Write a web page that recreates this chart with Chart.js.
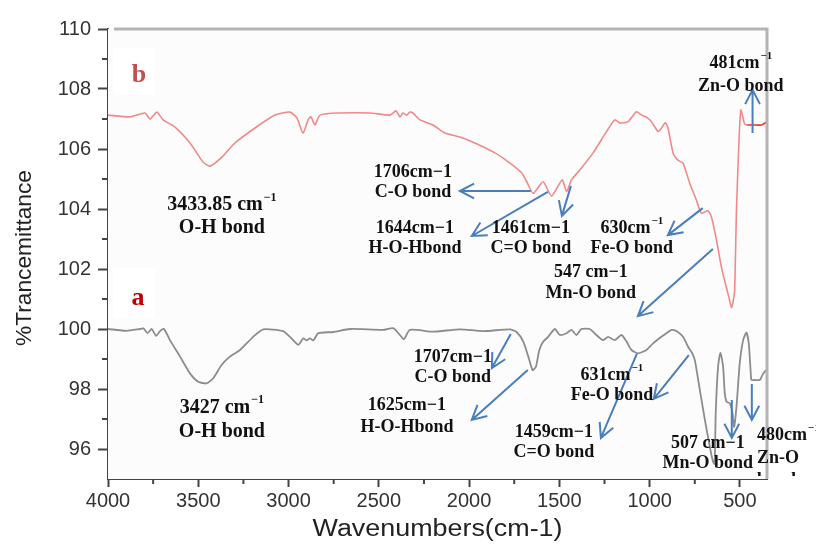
<!DOCTYPE html>
<html>
<head>
<meta charset="utf-8">
<script src="https://cdn.jsdelivr.net/npm/chart.js@4.4.1/dist/chart.umd.min.js"></script>
<style>
    html, body { margin: 0; padding: 0; background: #fff; }
</style>
</head>
<body>
<canvas id="ftirChart" width="816" height="548"></canvas>
<script>
// spectrum b (upper, pink)
const wavenumbersB = [4000,3878,3795,3767,3729,3695,3629,3546,3474,3435,3369,3297,3186,3075,2992,2953,2920,2892,2876,2854,2826,2715,2549,2438,2405,2383,2367,2344,2328,2311,2272,2200,2134,2051,1968,1857,1774,1708,1680,1645,1590,1543,1485,1460,1433,1387,1313,1239,1193,1165,1119,1073,1045,1018,990,953,935,913,898,870,843,815,778,741,714,677,658,630,603,580,562,547,538,529,520,505,495,485,475,460,440,420,380,365,350];
const transmittanceB = [107.13,107.07,107.2,107.0,107.23,106.97,106.73,106.2,105.57,105.43,105.73,106.2,106.7,107.13,107.23,107.03,106.53,106.97,107.07,106.8,107.13,107.2,107.2,107.13,107.27,107.07,107.2,107.13,107.23,107.2,106.97,106.8,106.53,106.4,106.2,105.87,105.53,105.2,104.9,104.52,104.91,104.43,104.97,104.58,104.97,105.3,105.87,106.58,106.97,106.87,106.91,107.24,107.13,107.06,106.91,106.58,106.69,106.88,106.69,105.86,105.63,105.52,104.86,104.3,103.86,103.94,103.74,102.97,102.08,101.5,101.08,100.72,100.9,101.3,103.8,106.3,107.3,107.1,106.85,106.8,106.8,106.8,106.8,106.85,106.9];

// spectrum a (lower, gray)
const wavenumbersA = [4000,3897,3823,3804,3780,3758,3734,3712,3690,3657,3601,3546,3500,3454,3417,3371,3325,3269,3196,3140,3030,2992,2946,2918,2900,2882,2863,2835,2753,2660,2476,2420,2383,2361,2328,2200,2051,1922,1774,1737,1700,1672,1648,1630,1611,1589,1562,1525,1497,1460,1433,1405,1378,1332,1295,1258,1230,1193,1156,1128,1101,1064,1018,981,935,907,879,852,815,787,765,750,722,694,667,649,640,634,621,608,593,584,574,556,541,532,519,501,482,464,451,441,436,418,390,375,362,350];
const transmittanceA = [100.0,99.94,100.0,100.02,99.86,100.0,99.77,99.93,100.0,99.63,99.08,98.52,98.24,98.19,98.36,98.8,99.08,99.3,99.74,99.99,99.93,99.74,99.47,99.69,99.62,99.69,99.62,99.86,99.9,100.0,99.97,100.03,99.8,99.66,99.97,99.91,99.99,99.93,99.99,99.9,99.58,99.08,98.63,98.74,99.3,99.58,99.74,100.0,99.8,99.86,99.97,99.8,100.0,100.0,99.8,99.63,99.74,99.63,99.8,99.58,99.3,99.19,99.3,99.52,99.74,99.86,99.97,99.93,99.74,99.41,99.2,98.97,97.97,96.97,96.08,95.58,95.5,97.2,98.74,99.21,98.74,97.86,97.58,97.52,97.19,96.74,97.41,98.86,99.63,99.88,99.52,98.63,98.3,98.3,98.3,98.47,98.58,98.65];

const xTicks = [4000, 3500, 3000, 2500, 2000, 1500, 1000, 500];
const xMinorTicks = [3750, 3250, 2750, 2250, 1750, 1250, 750];
const yTicks = [96, 98, 100, 102, 104, 106, 108, 110];
const yMinorTicks = [97, 99, 101, 103, 105, 107, 109];

// peak labels: lines, x (cm-1), y of each line (%T); '^' starts a superscript
const peakLabels = [
    {lines: ['481cm^−1', 'Zn-O bond'], x: 495, ys: [108.87, 108.1]},
    {lines: ['1706cm−1', 'C-O bond'], x: 2311, ys: [105.23, 104.57]},
    {lines: ['1644cm−1', 'H-O-Hbond'], x: 2300, ys: [103.37, 102.7]},
    {lines: ['1461cm−1', 'C=O bond'], x: 1658, ys: [103.37, 102.7]},
    {lines: ['630cm^−1', 'Fe-O bond'], x: 1099, ys: [103.37, 102.7]},
    {lines: ['547 cm−1', 'Mn-O bond'], x: 1326, ys: [101.9, 101.2]},
    {lines: ['3433.85 cm^−1', 'O-H bond'], x: 3369, ys: [104.13, 103.37], big: true},
    {lines: ['3427 cm^−1', 'O-H bond'], x: 3369, ys: [97.37, 96.57], big: true, clipY: 96.4},
    {lines: ['1707cm−1', 'C-O bond'], x: 2090, ys: [99.07, 98.4]},
    {lines: ['1625cm−1', 'H-O-Hbond'], x: 2344, ys: [97.47, 96.73]},
    {lines: ['631cm^−1', 'Fe-O bond'], x: 1209, ys: [98.47, 97.8]},
    {lines: ['1459cm−1', 'C=O bond'], x: 1530, ys: [96.57, 95.9]},
    {lines: ['507 cm−1', 'Mn-O bond'], x: 678, ys: [96.2, 95.53]},
    {lines: ['480cm^−1', 'Zn-O', 'bond'], x: 406, ys: [96.47, 95.7, 94.95], left: true, clipY: 95.1}
];

// arrows: [from x, from y, to x, to y] in cm-1 / %T
const peakArrows = [
    [430, 106.53, 430, 107.97],
    [1658, 104.6, 2051, 104.6],
    [1564, 104.57, 1985, 103.1],
    [1436, 104.77, 1486, 103.77],
    [706, 104.03, 899, 103.13],
    [650, 102.67, 1065, 100.43],
    [1769, 99.83, 1874, 98.7],
    [1675, 98.63, 1985, 96.97],
    [783, 99.13, 977, 97.67],
    [1071, 99.17, 1270, 96.37],
    [545, 97.63, 545, 96.37],
    [434, 98.17, 434, 96.97]
];

const seriesTags = [
    {text: 'b', x: 3828, y: 108.47, color: '#c0504d', box: [3972, 109.37, 3740, 107.8]},
    {text: 'a', x: 3834, y: 101.03, color: '#c00000', box: [3972, 102.03, 3740, 100.37]}
];

const serif = '"Liberation Serif", "Times New Roman", serif';
const sans = '"Liberation Sans", Arial, sans-serif';

function drawTextLine(ctx, str, x, y, size, left) {
    const parts = str.split('^');
    const base = parts[0], sup = parts[1];
    const mainFont = 'bold ' + size + 'px ' + serif;
    const supFont = 'bold ' + Math.round(size * 0.62) + 'px ' + serif;
    ctx.font = mainFont;
    const wBase = ctx.measureText(base).width;
    let wSup = 0;
    if (sup) {
        ctx.font = supFont;
        wSup = ctx.measureText(sup).width + 1;
    }
    const x0 = left ? x : x - (wBase + wSup) / 2;
    ctx.textAlign = 'left';
    ctx.textBaseline = 'middle';
    ctx.font = mainFont;
    ctx.fillText(base, x0, y);
    if (sup) {
        ctx.font = supFont;
        ctx.fillText(sup, x0 + wBase + 1, y - size * 0.38);
    }
}

function drawArrow(ctx, x1, y1, x2, y2) {
    const a = Math.atan2(y2 - y1, x2 - x1), h = 16, s = 0.48;
    ctx.beginPath();
    ctx.moveTo(x1, y1);
    ctx.lineTo(x2, y2);
    ctx.moveTo(x2 - h * Math.cos(a - s), y2 - h * Math.sin(a - s));
    ctx.lineTo(x2, y2);
    ctx.lineTo(x2 - h * Math.cos(a + s), y2 - h * Math.sin(a + s));
    ctx.stroke();
}

function stretchedText(ctx, text, cx, cy, size, width, angle) {
    ctx.save();
    ctx.font = size + 'px ' + sans;
    const w = ctx.measureText(text).width;
    ctx.translate(cx, cy);
    ctx.rotate(angle);
    ctx.scale(width / w, 1);
    ctx.textAlign = 'center';
    ctx.textBaseline = 'middle';
    ctx.fillStyle = '#222';
    ctx.fillText(text, 0, 0);
    ctx.restore();
}

const backgroundPlugin = {
    id: 'plotBackground',
    beforeDatasetsDraw(chart) {
        const {ctx, chartArea, scales: {x, y}} = chart;
        ctx.save();
        ctx.fillStyle = '#fcfcfc';
        ctx.fillRect(chartArea.left, chartArea.top, chartArea.right - chartArea.left, chartArea.bottom - chartArea.top);
        ctx.fillStyle = '#ffffff';
        seriesTags.forEach(t => {
            const bx1 = x.getPixelForValue(t.box[0]), by1 = y.getPixelForValue(t.box[1]);
            const bx2 = x.getPixelForValue(t.box[2]), by2 = y.getPixelForValue(t.box[3]);
            ctx.fillRect(bx1, by1, bx2 - bx1, by2 - by1);
        });
        ctx.restore();
    }
};

const annotationPlugin = {
    id: 'peakNotes',
    afterDatasetsDraw(chart) {
        const {ctx, chartArea, scales: {x, y}} = chart;
        ctx.save();

        // frame: light top and right edges
        ctx.strokeStyle = '#b4b4b4';
        ctx.lineWidth = 3;
        ctx.beginPath();
        ctx.moveTo(chartArea.left + 6, chartArea.top);
        ctx.lineTo(chartArea.right, chartArea.top);
        ctx.lineTo(chartArea.right, chartArea.bottom);
        ctx.stroke();

        // minor ticks
        ctx.strokeStyle = '#444';
        ctx.lineWidth = 2;
        ctx.beginPath();
        xMinorTicks.forEach(v => {
            const px = x.getPixelForValue(v);
            ctx.moveTo(px, chartArea.bottom);
            ctx.lineTo(px, chartArea.bottom + 5);
        });
        yMinorTicks.forEach(v => {
            const py = y.getPixelForValue(v);
            ctx.moveTo(chartArea.left, py);
            ctx.lineTo(chartArea.left - 6, py);
        });
        ctx.stroke();

        // series tags
        seriesTags.forEach(t => {
            ctx.fillStyle = t.color;
            ctx.font = 'bold 26px ' + serif;
            ctx.textAlign = 'center';
            ctx.textBaseline = 'middle';
            ctx.fillText(t.text, x.getPixelForValue(t.x), y.getPixelForValue(t.y));
        });

        // arrows
        ctx.strokeStyle = '#4a7ebb';
        ctx.lineWidth = 2;
        peakArrows.forEach(a => {
            drawArrow(ctx, x.getPixelForValue(a[0]), y.getPixelForValue(a[1]),
                x.getPixelForValue(a[2]), y.getPixelForValue(a[3]));
        });

        // labels
        ctx.fillStyle = '#111';
        peakLabels.forEach(p => {
            ctx.save();
            if (p.clipY !== undefined) {
                ctx.beginPath();
                ctx.rect(0, 0, chart.width, y.getPixelForValue(p.clipY));
                ctx.clip();
            }
            const px = x.getPixelForValue(p.x);
            p.lines.forEach((line, i) => {
                drawTextLine(ctx, line, px, y.getPixelForValue(p.ys[i]), p.big ? 20 : 18, p.left);
            });
            ctx.restore();
        });

        // axis titles
        stretchedText(ctx, 'Wavenumbers(cm-1)', (chartArea.left + chartArea.right) / 2, 530, 23, 250, 0);
        stretchedText(ctx, '%Trancemittance', 25, 258, 22, 176, -Math.PI / 2);
        ctx.restore();
    }
};

const ctx = document.getElementById('ftirChart').getContext('2d');
new Chart(ctx, {
    type: 'line',
    data: {
        datasets: [
            {
                label: 'b',
                data: wavenumbersB.map((w, i) => ({x: w, y: transmittanceB[i]})),
                borderColor: '#ee8a8a',
                borderWidth: 1.6,
                pointRadius: 0,
                tension: 0.2,
                segment: {
                    borderColor: c => wavenumbersB[c.p0DataIndex] < 462 ? '#e8302a' : undefined
                }
            },
            {
                label: 'a',
                data: wavenumbersA.map((w, i) => ({x: w, y: transmittanceA[i]})),
                borderColor: '#8c8c8c',
                borderWidth: 1.8,
                pointRadius: 0,
                tension: 0.2
            }
        ]
    },
    options: {
        responsive: false,
        animation: false,
        layout: {padding: {top: 29, right: 49, left: 0, bottom: 0}},
        plugins: {legend: {display: false}, tooltip: {enabled: false}},
        scales: {
            x: {
                type: 'linear',
                reverse: true,
                min: 350,
                max: 4000,
                afterBuildTicks: s => { s.ticks = xTicks.map(v => ({value: v})); },
                afterFit: s => { s.height = 69; },
                border: {color: '#444', width: 2},
                grid: {drawOnChartArea: false, drawTicks: true, tickLength: 8, tickColor: '#444', tickWidth: 2},
                ticks: {
                    color: '#333',
                    font: {family: sans, size: 20},
                    padding: 2,
                    maxRotation: 0,
                    autoSkip: false,
                    callback: v => String(v)
                }
            },
            y: {
                min: 95,
                max: 110,
                afterBuildTicks: s => { s.ticks = yTicks.map(v => ({value: v})); },
                afterFit: s => { s.width = 108; },
                border: {color: '#444', width: 2},
                grid: {drawOnChartArea: false, drawTicks: true, tickLength: 10, tickColor: '#444', tickWidth: 2},
                ticks: {color: '#333', font: {family: sans, size: 20}, padding: 7, callback: v => String(v)}
            }
        }
    },
    plugins: [backgroundPlugin, annotationPlugin]
});
</script>
</body>
</html>
